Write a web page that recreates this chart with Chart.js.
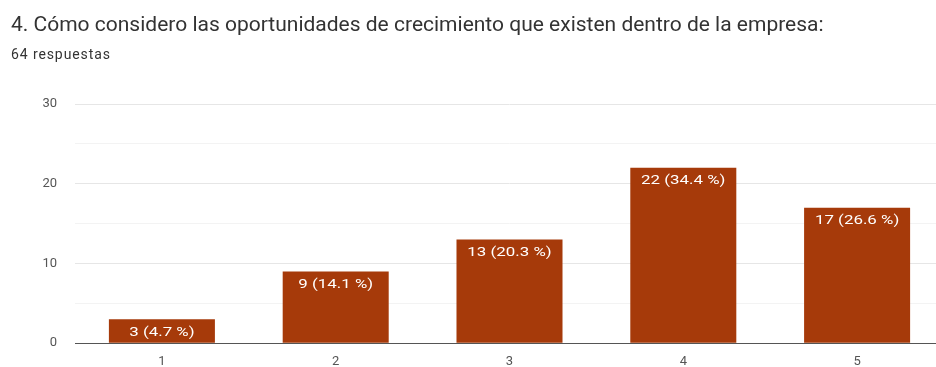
<!DOCTYPE html>
<html lang="es">
<head>
  <meta charset="UTF-8" />
  <title>Oportunidades de crecimiento</title>
  <script src="https://cdn.jsdelivr.net/npm/chart.js"></script>
  <style>
    html, body { margin: 0; padding: 0; background: #fff; overflow: hidden; }
    body { width: 936px; height: 367px; position: relative; font-family: Roboto, "Noto Sans", sans-serif; }
    .title { position: absolute; left: 11px; top: 14px; font-size: 21px; line-height: 21px; color: #333; white-space: nowrap; }
    .sub { position: absolute; left: 11px; top: 47px; font-size: 14px; line-height: 14px; letter-spacing: 0.9px; color: #333; }
    .wrap { position: absolute; left: 0; top: 0; width: 944px; height: 369px; }
  </style>
</head>
<body>
  <div class="wrap"><canvas id="chart"></canvas></div>
  <div class="title">4. Cómo considero las oportunidades de crecimiento que existen dentro de la empresa:</div>
  <div class="sub">64 respuestas</div>

  <script>
    const categories = ['1', '2', '3', '4', '5'];
    const counts = [3, 9, 13, 22, 17];
    const yTicks = [0, 10, 20, 30];
    const total = counts.reduce((a, b) => a + b, 0);

    // value labels drawn inside the top of each bar
    const barLabels = {
      id: 'barLabels',
      afterDatasetsDraw(chart) {
        const ctx = chart.ctx;
        const meta = chart.getDatasetMeta(0);
        meta.data.forEach((bar, i) => {
          const pct = (counts[i] / total * 100).toFixed(1);
          ctx.save();
          ctx.translate(bar.x, bar.y + 13);
          ctx.scale(1.3, 1);
          ctx.font = '13px Roboto, sans-serif';
          ctx.fillStyle = '#fff';
          ctx.textAlign = 'center';
          ctx.textBaseline = 'middle';
          ctx.fillText(counts[i] + ' (' + pct + ' %)', 0, 0);
          ctx.restore();
        });
      }
    };

    new Chart(document.getElementById('chart'), {
      type: 'bar',
      data: {
        labels: categories,
        datasets: [{
          data: counts,
          backgroundColor: '#a63a0a',
          barPercentage: 0.61,
          categoryPercentage: 1
        }]
      },
      options: {
        responsive: true,
        maintainAspectRatio: false,
        animation: false,
        layout: { padding: { top: 104, right: 0, left: 0, bottom: 0 } },
        plugins: { legend: { display: false }, tooltip: { enabled: false } },
        scales: {
          x: {
            grid: { display: false, drawTicks: false },
            border: { display: true, color: '#555', width: 1 },
            ticks: { color: '#555', font: { family: 'Roboto', size: 13 }, padding: 11 },
            afterFit: (s) => { s.height = 24; }
          },
          y: {
            min: 0,
            max: 30,
            ticks: {
              stepSize: 5,
              color: '#555',
              font: { family: 'Roboto', size: 13 },
              padding: 18,
              callback: (v) => yTicks.includes(v) ? v : ''
            },
            grid: {
              drawTicks: false,
              color: (c) => c.tick.value % 10 === 0 ? '#e6e6e6' : '#f3f3f3'
            },
            border: { display: false },
            afterFit: (s) => { s.width = 75; }
          }
        }
      },
      plugins: [barLabels]
    });
  </script>
</body>
</html>
